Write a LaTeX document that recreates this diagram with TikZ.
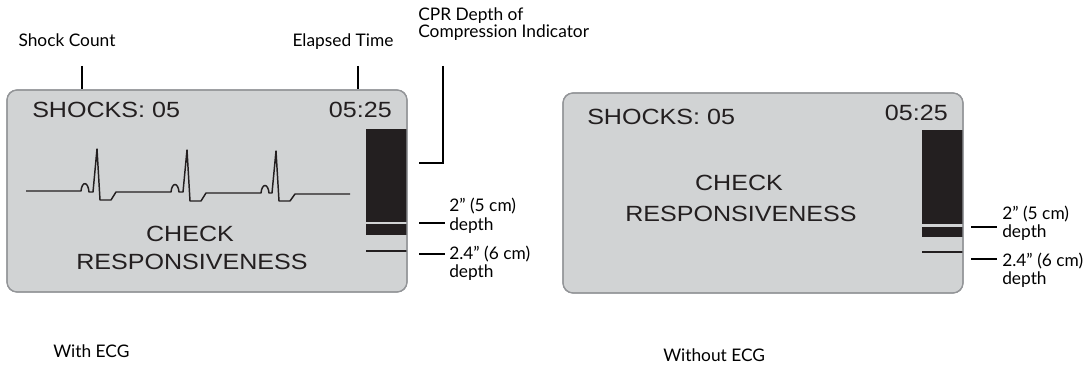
\documentclass[tikz,border=0pt]{standalone}
\usepackage{fontspec}
\setmainfont{Lato}
\newfontfamily\dispfont{Liberation Sans}
\definecolor{panelfill}{HTML}{D1D3D4}
\definecolor{panelline}{HTML}{939598}
\definecolor{ink}{HTML}{231F20}
\tikzset{
  panel/.style={draw=panelline, fill=panelfill, line width=0.9pt, rounded corners=7.5pt},
  disp/.style={inner sep=0pt, text=ink, font=\dispfont\fontsize{16.5pt}{19pt}\selectfont},
  lbl/.style={inner sep=0pt, text=black, font=\fontsize{13pt}{15pt}\selectfont},
  lead/.style={draw=black, line width=1.3pt},
  bar/.style={fill=ink, draw=none},
  ecg/.style={draw=ink, line width=1.1pt, line join=round},
}
\newcommand{\wide}[1]{\scalebox{1.14}[1]{#1}}
\begin{document}
\begin{tikzpicture}[x=0.75pt,y=-0.75pt]
\useasboundingbox (0,0) rectangle (1090,367);

% ---------- left panel ----------
\draw[panel] (7,90) rectangle (407,292);
\fill[bar] (366,129) rectangle (407,222);
\fill[bar] (366,224) rectangle (407,235);
\draw[ink, line width=1pt] (366,251) -- (407,251);
\draw[panel, fill=none] (7,90) rectangle (407,292);

\node[disp, anchor=base west] (shL) at (32,118) {\wide{SHOCKS: 05}};
\node[disp, anchor=base east] (tmL) at (392,118) {\wide{05:25}};
\node[disp, anchor=base] (ckL) at (190,242) {\wide{CHECK}};
\node[disp, anchor=base] (rsL) at (192,270) {\wide{RESPONSIVENESS}};

\draw[ecg] (26,191) -- (81,191)
  .. controls (82,181) and (88,181) .. (89,192) -- (93,192)
  -- (97,149) -- (100,200) -- (111,200) -- (116,192) -- (171,192)
  .. controls (172,182) and (178,182) .. (179,192) -- (183,192)
  -- (187,150) -- (190,201) -- (201,201) -- (206,193) -- (261,193)
  .. controls (262,183) and (268,183) .. (269,193) -- (272,193)
  -- (276,151) -- (279,201) -- (290,201) -- (295,194) -- (350,194);

% labels above
\node[lbl, anchor=base] (scL) at (67,47) {Shock Count};
\node[lbl, anchor=base] (etL) at (343,47) {Elapsed Time};
\node[lbl, anchor=base west] (cprL) at (418,21) {CPR Depth of};
\node[lbl, anchor=base west] (cprL2) at (418,38) {Compression Indicator};
\coordinate (scT) at (82,66); \coordinate (scB) at (82,89);
\coordinate (etT) at (358,66); \coordinate (etB) at (358,89);
\coordinate (cpT) at (443,66); \coordinate (cpC) at (443,163); \coordinate (cpE) at (419,163);
\draw[lead] (scT) -- (scB);
\draw[lead] (etT) -- (etB);
\draw[lead] (cpT) -- (cpC) -- (cpE);

% depth labels left
\coordinate (d1a) at (419,223); \coordinate (d1b) at (445,223);
\coordinate (d2a) at (419,254); \coordinate (d2b) at (445,254);
\draw[lead] (d1a) -- (d1b);
\draw[lead] (d2a) -- (d2b);
\node[lbl, anchor=base west] (d1L) at (449,212) {2” (5 cm)};
\node[lbl, anchor=base west] (d1Lb) at (449,231) {depth};
\node[lbl, anchor=base west] (d2L) at (449,260) {2.4” (6 cm)};
\node[lbl, anchor=base west] (d2Lb) at (449,278) {depth};

\node[lbl, anchor=base west] (wL) at (53,358) {With ECG};

% ---------- right panel ----------
\draw[panel] (563,93) rectangle (963,293);
\fill[bar] (922,130) rectangle (963,224);
\fill[bar] (922,227) rectangle (963,237);
\draw[ink, line width=1pt] (922,252) -- (963,252);
\draw[panel, fill=none] (563,93) rectangle (963,293);

\node[disp, anchor=base west] (shR) at (587,125) {\wide{SHOCKS: 05}};
\node[disp, anchor=base east] (tmR) at (948,121) {\wide{05:25}};
\node[disp, anchor=base] (ckR) at (739,191) {\wide{CHECK}};
\node[disp, anchor=base] (rsR) at (741,222) {\wide{RESPONSIVENESS}};

\coordinate (e1a) at (971,227); \coordinate (e1b) at (997,227);
\coordinate (e2a) at (971,259); \coordinate (e2b) at (997,259);
\draw[lead] (e1a) -- (e1b);
\draw[lead] (e2a) -- (e2b);
\node[lbl, anchor=base west] (e1L) at (1002,220) {2” (5 cm)};
\node[lbl, anchor=base west] (e1Lb) at (1002,238) {depth};
\node[lbl, anchor=base west] (e2L) at (1002,267) {2.4” (6 cm)};
\node[lbl, anchor=base west] (e2Lb) at (1002,285) {depth};

\node[lbl, anchor=base west] (woL) at (663,361) {Without ECG};
\end{tikzpicture}
\end{document}
